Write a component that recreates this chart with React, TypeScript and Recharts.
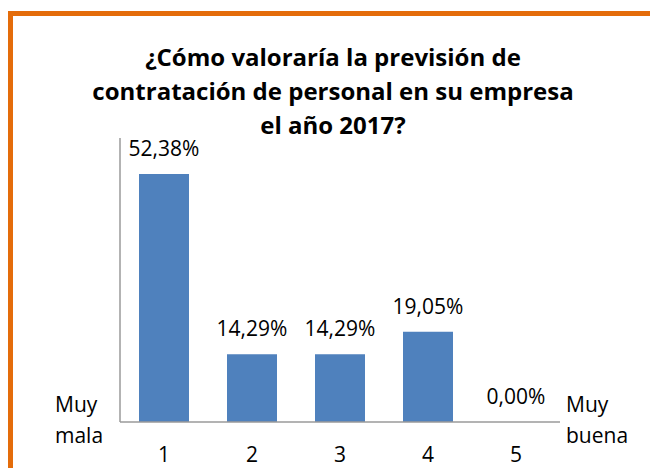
import React from 'react';
import { ComposedChart, Bar, Line, XAxis, YAxis, ReferenceLine } from 'recharts';

const categories = ['1', '2', '3', '4', '5'];
const values = [52.38, 14.29, 14.29, 19.05, 0];
const titleLines = [
  '¿Cómo valoraría la previsión de',
  'contratación de personal en su empresa',
  'el año 2017?',
];
const leftLabel = ['Muy', 'mala'];
const rightLabel = ['Muy', 'buena'];

const data = categories.map((c, i) => ({ cat: c, value: values[i] }));

const FONT = '"Open Sans", sans-serif';
const AXIS = '#9a9a9a';

const fmt = (v: number) => v.toFixed(2).replace('.', ',') + '%';

// value labels sit 18px above the top of each bar (also for the 0 bar)
const TopLabel = (props: any) => {
  const { x, y, value } = props;
  return (
    <text x={Number(x)} y={Number(y) - 18} textAnchor="middle" fill="#000" fontSize={21} fontFamily={FONT}>
      {fmt(Number(value))}
    </text>
  );
};

const sideText: React.CSSProperties = {
  position: 'absolute',
  fontSize: 21,
  lineHeight: '31px',
  fontFamily: FONT,
  color: '#000',
  whiteSpace: 'nowrap',
};

export default function App() {
  return (
    <div style={{ position: 'relative', width: 650, height: 468, overflow: 'hidden', background: '#fff', fontFamily: FONT }}>
      <style>{'body{margin:0;overflow:hidden}'}</style>
      {/* orange frame, only top and left edges fall inside the picture */}
      <div
        style={{
          position: 'absolute',
          left: 8,
          top: 11,
          width: 660,
          height: 480,
          borderTop: '5px solid #E46C0A',
          borderLeft: '5px solid #E46C0A',
          boxSizing: 'border-box',
        }}
      />
      <div style={{ position: 'absolute', left: 0, top: 0 }}>
        <ComposedChart width={650} height={468} data={data} margin={{ top: 138, right: 90, bottom: 0, left: 120 }}>
          <YAxis width={0} domain={[0, 60]} tick={false} tickLine={false} axisLine={false} />
          <XAxis
            dataKey="cat"
            height={46}
            interval={0}
            tickLine={false}
            tickMargin={19}
            axisLine={false}
            tick={{ fill: '#000', fontSize: 21, fontFamily: FONT }}
          />
          {/* hidden numeric axis so the vertical axis line can sit on the plot's left edge */}
          <XAxis xAxisId="edge" type="number" domain={[0, 5]} hide />
          <Bar dataKey="value" fill="#4F81BD" barSize={50} isAnimationActive={false} />
          <Line
            dataKey="value"
            stroke="none"
            dot={false}
            activeDot={false}
            isAnimationActive={false}
            label={TopLabel}
          />
          <ReferenceLine y={0} stroke={AXIS} strokeWidth={1.5} />
          <ReferenceLine xAxisId="edge" x={0} stroke={AXIS} strokeWidth={1.5} />
        </ComposedChart>
      </div>
      <div
        style={{
          position: 'absolute',
          left: 33,
          top: 40,
          width: 600,
          textAlign: 'center',
          fontSize: 24,
          lineHeight: '34px',
          fontWeight: 700,
          color: '#000',
        }}
      >
        {titleLines.map((t) => (
          <div key={t}>{t}</div>
        ))}
      </div>
      <div style={{ ...sideText, left: 55, top: 389 }}>
        {leftLabel.map((t) => (
          <div key={t}>{t}</div>
        ))}
      </div>
      <div style={{ ...sideText, left: 566, top: 389 }}>
        {rightLabel.map((t) => (
          <div key={t}>{t}</div>
        ))}
      </div>
    </div>
  );
}
